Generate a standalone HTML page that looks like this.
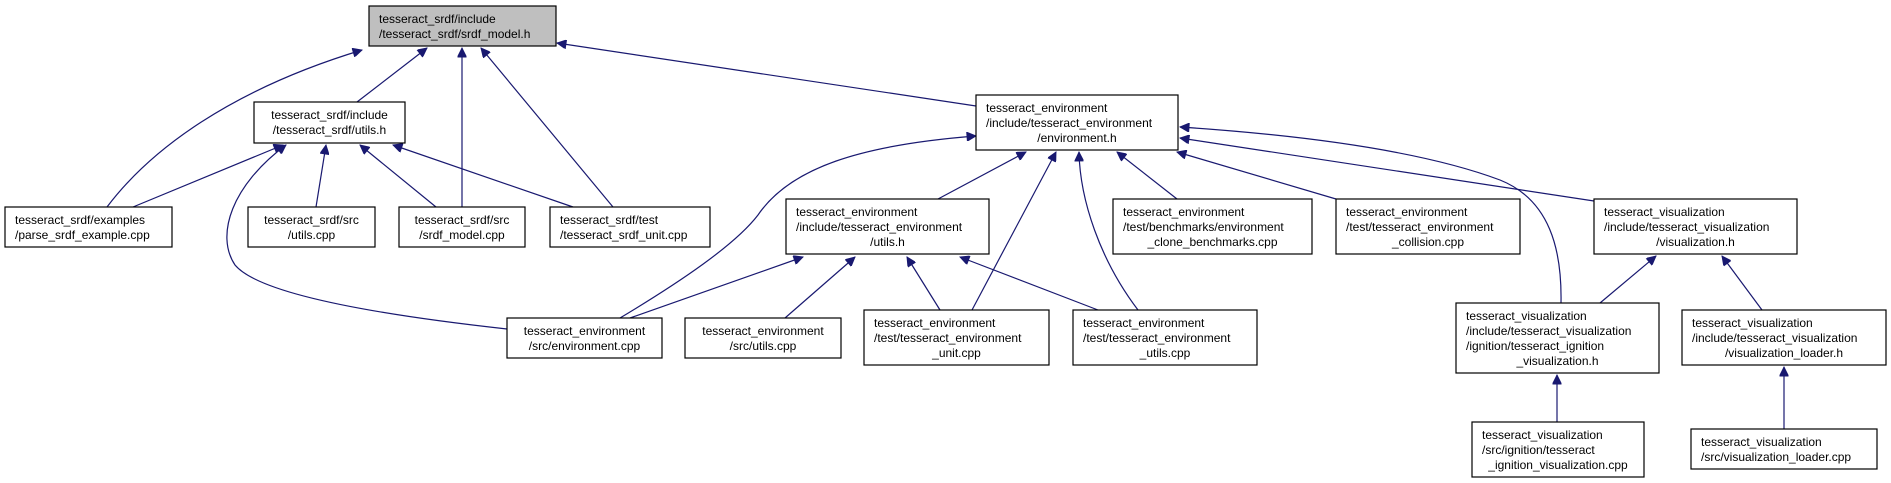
<!DOCTYPE html>
<html><head><meta charset="utf-8"><style>
html,body{margin:0;padding:0;background:#fff;}
svg{display:block;}
text{font-family:"Liberation Sans",Arial,sans-serif;font-size:12px;fill:#000;}
.b{fill:#fff;stroke:#000;stroke-width:1.2;}
.e{fill:none;stroke:#191970;stroke-width:1.2;}
</style></head><body>
<svg width="1891" height="483" viewBox="0 0 1891 483" xmlns="http://www.w3.org/2000/svg">
<defs>
<marker id="a" viewBox="0 0 10 10" refX="10" refY="5" markerWidth="11" markerHeight="9" markerUnits="userSpaceOnUse" orient="auto">
<path d="M0,0 L10,5 L0,10 z" fill="#191970" stroke="#191970"/>
</marker>
</defs>

<!-- edges -->
<g class="e" marker-end="url(#a)">
<path d="M107,207 C150,150 230,90 362,50"/>
<path d="M357,102 L427,48"/>
<path d="M462,207 L462,48"/>
<path d="M613,207 L481,48"/>
<path d="M976,106 L557,43"/>
<path d="M133,207 L283,145"/>
<path d="M507,329 C380,315 260,295 235,265 C215,235 232,185 286,145"/>
<path d="M316,207 L326,145"/>
<path d="M436,207 L360,145"/>
<path d="M573,207 L393,145"/>
<path d="M620,318 C680,282 735,245 758,215 C790,168 860,145 976,136"/>
<path d="M938,199 L1026,152"/>
<path d="M972,310 L1056,152"/>
<path d="M1138,310 C1100,260 1080,200 1079,152"/>
<path d="M1177,199 L1117,152"/>
<path d="M1336,199 L1177,152"/>
<path d="M1594,201 L1180,138"/>
<path d="M1561,303 C1562,250 1550,200 1500,180 C1420,150 1300,135 1180,127"/>
<path d="M630,318 L803,257"/>
<path d="M785,318 L855,257"/>
<path d="M940,310 L907,257"/>
<path d="M1098,310 L960,257"/>
<path d="M1600,303 L1656,256"/>
<path d="M1762,310 L1722,256"/>
<path d="M1557,422 L1557,375"/>
<path d="M1784,429 L1784,367"/>
</g>

<!-- nodes -->
<rect x="369" y="6" width="187" height="40" fill="#bfbfbf" stroke="#000" stroke-width="1.2"/>
<text x="379" y="23">tesseract_srdf/include</text>
<text x="379" y="38">/tesseract_srdf/srdf_model.h</text>

<rect class="b" x="254" y="102" width="151" height="41"/>
<text x="329.5" y="119" text-anchor="middle">tesseract_srdf/include</text>
<text x="329.5" y="134" text-anchor="middle">/tesseract_srdf/utils.h</text>

<rect class="b" x="5" y="207" width="167" height="40"/>
<text x="15" y="224">tesseract_srdf/examples</text>
<text x="15" y="239">/parse_srdf_example.cpp</text>

<rect class="b" x="248" y="207" width="127" height="40"/>
<text x="311.5" y="224" text-anchor="middle">tesseract_srdf/src</text>
<text x="311.5" y="239" text-anchor="middle">/utils.cpp</text>

<rect class="b" x="399" y="207" width="126" height="40"/>
<text x="462" y="224" text-anchor="middle">tesseract_srdf/src</text>
<text x="462" y="239" text-anchor="middle">/srdf_model.cpp</text>

<rect class="b" x="550" y="207" width="160" height="40"/>
<text x="560" y="224">tesseract_srdf/test</text>
<text x="560" y="239">/tesseract_srdf_unit.cpp</text>

<rect class="b" x="976" y="95" width="202" height="55"/>
<text x="986" y="112">tesseract_environment</text>
<text x="986" y="127">/include/tesseract_environment</text>
<text x="1077" y="142" text-anchor="middle">/environment.h</text>

<rect class="b" x="786" y="199" width="203" height="55"/>
<text x="796" y="216">tesseract_environment</text>
<text x="796" y="231">/include/tesseract_environment</text>
<text x="887.5" y="246" text-anchor="middle">/utils.h</text>

<rect class="b" x="1113" y="199" width="199" height="55"/>
<text x="1123" y="216">tesseract_environment</text>
<text x="1123" y="231">/test/benchmarks/environment</text>
<text x="1212.5" y="246" text-anchor="middle">_clone_benchmarks.cpp</text>

<rect class="b" x="1336" y="199" width="184" height="55"/>
<text x="1346" y="216">tesseract_environment</text>
<text x="1346" y="231">/test/tesseract_environment</text>
<text x="1428" y="246" text-anchor="middle">_collision.cpp</text>

<rect class="b" x="1594" y="199" width="203" height="55"/>
<text x="1604" y="216">tesseract_visualization</text>
<text x="1604" y="231">/include/tesseract_visualization</text>
<text x="1695.5" y="246" text-anchor="middle">/visualization.h</text>

<rect class="b" x="507" y="318" width="155" height="40"/>
<text x="584.5" y="335" text-anchor="middle">tesseract_environment</text>
<text x="584.5" y="350" text-anchor="middle">/src/environment.cpp</text>

<rect class="b" x="685" y="318" width="156" height="40"/>
<text x="763" y="335" text-anchor="middle">tesseract_environment</text>
<text x="763" y="350" text-anchor="middle">/src/utils.cpp</text>

<rect class="b" x="864" y="310" width="185" height="55"/>
<text x="874" y="327">tesseract_environment</text>
<text x="874" y="342">/test/tesseract_environment</text>
<text x="956.5" y="357" text-anchor="middle">_unit.cpp</text>

<rect class="b" x="1073" y="310" width="184" height="55"/>
<text x="1083" y="327">tesseract_environment</text>
<text x="1083" y="342">/test/tesseract_environment</text>
<text x="1165" y="357" text-anchor="middle">_utils.cpp</text>

<rect class="b" x="1456" y="303" width="203" height="70"/>
<text x="1466" y="320">tesseract_visualization</text>
<text x="1466" y="335">/include/tesseract_visualization</text>
<text x="1466" y="350">/ignition/tesseract_ignition</text>
<text x="1557.5" y="365" text-anchor="middle">_visualization.h</text>

<rect class="b" x="1682" y="310" width="204" height="55"/>
<text x="1692" y="327">tesseract_visualization</text>
<text x="1692" y="342">/include/tesseract_visualization</text>
<text x="1784" y="357" text-anchor="middle">/visualization_loader.h</text>

<rect class="b" x="1472" y="422" width="172" height="55"/>
<text x="1482" y="439">tesseract_visualization</text>
<text x="1482" y="454">/src/ignition/tesseract</text>
<text x="1558" y="469" text-anchor="middle">_ignition_visualization.cpp</text>

<rect class="b" x="1691" y="429" width="186" height="40"/>
<text x="1701" y="446">tesseract_visualization</text>
<text x="1701" y="461">/src/visualization_loader.cpp</text>
</svg>
</body></html>
